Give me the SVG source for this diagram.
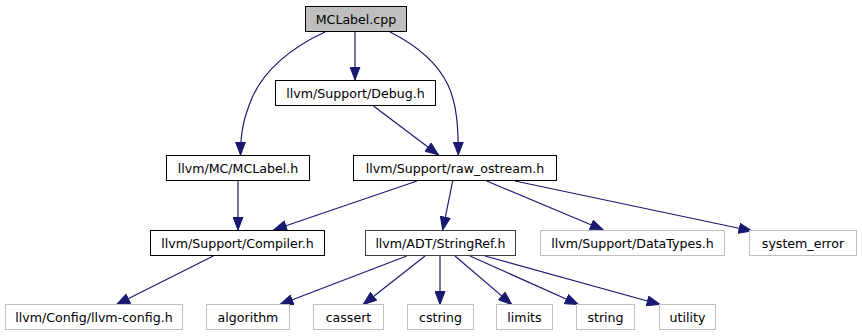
<svg xmlns="http://www.w3.org/2000/svg" width="862" height="336" viewBox="0 0 862 336">
  <style>
    .box { fill: #ffffff; stroke: #000000; stroke-width: 1; }
    .root { fill: #bfbfbf; stroke: #000000; stroke-width: 1; }
    .dark { fill: #ffffff; stroke: #404040; stroke-width: 1; }
    .ext { fill: #ffffff; stroke: #bfbfbf; stroke-width: 1; }
    text { font-family: "DejaVu Sans", "Liberation Sans", sans-serif; font-size: 12.6px; fill: #000000; text-anchor: middle; }
    .edge { fill: none; stroke: #191970; stroke-width: 1.2; marker-end: url(#arrow); }
  </style>
  <defs>
    <marker id="arrow" markerUnits="userSpaceOnUse" markerWidth="14" markerHeight="11" viewBox="0 0 14 11" refX="13.5" refY="5.5" orient="auto">
      <path d="M0.5,0.5 L13.5,5.5 L0.5,10.5 z" fill="#191970" stroke="#191970" stroke-width="1"/>
    </marker>
  </defs>
  <rect width="862" height="336" fill="#ffffff"/>

  <g id="edges">
    <path class="edge" d="M325,32 C292,47 264,70 252,98 C244,117 240.5,132 240.5,155"/>
    <path class="edge" d="M355,32 L355,80"/>
    <path class="edge" d="M390,32 C414,44 437,62 448,85 C457,104 458.3,128 458.3,155"/>
    <path class="edge" d="M373.5,106 L438.5,155"/>
    <path class="edge" d="M238,181 L238,230"/>
    <path class="edge" d="M417,181 L273.5,230"/>
    <path class="edge" d="M452.7,181 L442.7,230"/>
    <path class="edge" d="M486.7,181 L603.3,230"/>
    <path class="edge" d="M515,181 L752,231"/>
    <path class="edge" d="M213.3,256 L116.7,304.5"/>
    <path class="edge" d="M406.7,256 L280,304.5"/>
    <path class="edge" d="M425,256 L363.3,304.5"/>
    <path class="edge" d="M440,256 L440,304.5"/>
    <path class="edge" d="M455,256 L511.7,304.5"/>
    <path class="edge" d="M470,256 L578.3,304.5"/>
    <path class="edge" d="M485,256 L660,304.5"/>
  </g>

  <g id="node-mclabel-cpp">
    <rect class="root" x="305.5" y="6.5" width="101" height="25"/>
    <text x="356" y="23.8">MCLabel.cpp</text>
  </g>
  <g id="node-debug-h">
    <rect class="box" x="275.5" y="80.5" width="160" height="25"/>
    <text x="355.5" y="97.8">llvm/Support/Debug.h</text>
  </g>
  <g id="node-mc-mclabel-h">
    <rect class="box" x="166.5" y="155.5" width="143" height="25"/>
    <text x="238" y="172.8">llvm/MC/MCLabel.h</text>
  </g>
  <g id="node-raw-ostream-h">
    <rect class="box" x="353.5" y="155.5" width="203" height="25"/>
    <text x="455" y="172.8">llvm/Support/raw_ostream.h</text>
  </g>
  <g id="node-compiler-h">
    <rect class="box" x="150.5" y="230.5" width="174" height="25"/>
    <text x="237.5" y="247.8">llvm/Support/Compiler.h</text>
  </g>
  <g id="node-stringref-h">
    <rect class="dark" x="365.5" y="230.5" width="150" height="25"/>
    <text x="440.5" y="247.8">llvm/ADT/StringRef.h</text>
  </g>
  <g id="node-datatypes-h">
    <rect class="ext" x="540.5" y="230.5" width="184" height="25"/>
    <text x="632.5" y="247.8">llvm/Support/DataTypes.h</text>
  </g>
  <g id="node-system-error">
    <rect class="ext" x="749.5" y="230.5" width="107" height="25"/>
    <text x="803" y="247.8">system_error</text>
  </g>
  <g id="node-llvm-config-h">
    <rect class="ext" x="5.5" y="304.5" width="177" height="25"/>
    <text x="94" y="321.8">llvm/Config/llvm-config.h</text>
  </g>
  <g id="node-algorithm">
    <rect class="ext" x="206.5" y="304.5" width="83" height="25"/>
    <text x="248" y="321.8">algorithm</text>
  </g>
  <g id="node-cassert">
    <rect class="ext" x="313.5" y="304.5" width="70" height="25"/>
    <text x="348.5" y="321.8">cassert</text>
  </g>
  <g id="node-cstring">
    <rect class="ext" x="407.5" y="304.5" width="66" height="25"/>
    <text x="440.5" y="321.8">cstring</text>
  </g>
  <g id="node-limits">
    <rect class="ext" x="496.5" y="304.5" width="56" height="25"/>
    <text x="524.5" y="321.8">limits</text>
  </g>
  <g id="node-string">
    <rect class="ext" x="576.5" y="304.5" width="58" height="25"/>
    <text x="605.5" y="321.8">string</text>
  </g>
  <g id="node-utility">
    <rect class="ext" x="659.5" y="304.5" width="56" height="25"/>
    <text x="687.5" y="321.8">utility</text>
  </g>
</svg>
